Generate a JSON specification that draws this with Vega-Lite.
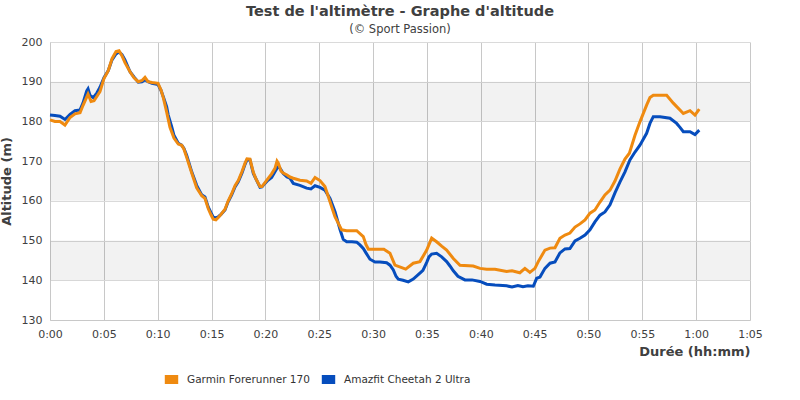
{
  "$schema": "https://vega.github.io/schema/vega-lite/v6.json",
  "width": 700,
  "height": 278,
  "autosize": "none",
  "padding": {"left": 50, "top": 42, "right": 50, "bottom": 80},
  "background": "white",
  "title": {
    "text": "Test de l'altimètre - Graphe d'altitude",
    "subtitle": "(© Sport Passion)",
    "anchor": "middle",
    "frame": "group",
    "font": "DejaVu Sans",
    "fontSize": 14.5,
    "fontWeight": "bold",
    "color": "#404040",
    "subtitleFont": "DejaVu Sans",
    "subtitleFontSize": 11.5,
    "subtitleColor": "#404040",
    "subtitlePadding": 4,
    "offset": 0
  },
  "datasets": {
    "bands": [
      {"lo": 180, "hi": 190},
      {"lo": 160, "hi": 170},
      {"lo": 140, "hi": 150}
    ],
    "alt": [
      {"t": 0, "alt": 181.6, "s": "Amazfit Cheetah 2 Ultra"},
      {"t": 0.46, "alt": 181.5, "s": "Amazfit Cheetah 2 Ultra"},
      {"t": 0.93, "alt": 181.3, "s": "Amazfit Cheetah 2 Ultra"},
      {"t": 1.39, "alt": 180.5, "s": "Amazfit Cheetah 2 Ultra"},
      {"t": 1.86, "alt": 181.8, "s": "Amazfit Cheetah 2 Ultra"},
      {"t": 2.32, "alt": 182.7, "s": "Amazfit Cheetah 2 Ultra"},
      {"t": 2.79, "alt": 182.9, "s": "Amazfit Cheetah 2 Ultra"},
      {"t": 3.06, "alt": 184.6, "s": "Amazfit Cheetah 2 Ultra"},
      {"t": 3.41, "alt": 187.7, "s": "Amazfit Cheetah 2 Ultra"},
      {"t": 3.53, "alt": 188.2, "s": "Amazfit Cheetah 2 Ultra"},
      {"t": 3.71, "alt": 186.6, "s": "Amazfit Cheetah 2 Ultra"},
      {"t": 4.02, "alt": 186.0, "s": "Amazfit Cheetah 2 Ultra"},
      {"t": 4.36, "alt": 187.2, "s": "Amazfit Cheetah 2 Ultra"},
      {"t": 4.64, "alt": 188.6, "s": "Amazfit Cheetah 2 Ultra"},
      {"t": 5.01, "alt": 191.0, "s": "Amazfit Cheetah 2 Ultra"},
      {"t": 5.41, "alt": 192.8, "s": "Amazfit Cheetah 2 Ultra"},
      {"t": 5.76, "alt": 195.5, "s": "Amazfit Cheetah 2 Ultra"},
      {"t": 6.13, "alt": 197.0, "s": "Amazfit Cheetah 2 Ultra"},
      {"t": 6.41, "alt": 197.5, "s": "Amazfit Cheetah 2 Ultra"},
      {"t": 6.69, "alt": 196.8, "s": "Amazfit Cheetah 2 Ultra"},
      {"t": 6.96, "alt": 195.5, "s": "Amazfit Cheetah 2 Ultra"},
      {"t": 7.43, "alt": 192.5, "s": "Amazfit Cheetah 2 Ultra"},
      {"t": 7.80, "alt": 191.2, "s": "Amazfit Cheetah 2 Ultra"},
      {"t": 8.20, "alt": 189.9, "s": "Amazfit Cheetah 2 Ultra"},
      {"t": 8.54, "alt": 190.0, "s": "Amazfit Cheetah 2 Ultra"},
      {"t": 8.82, "alt": 190.5, "s": "Amazfit Cheetah 2 Ultra"},
      {"t": 9.10, "alt": 190.0, "s": "Amazfit Cheetah 2 Ultra"},
      {"t": 9.47, "alt": 189.6, "s": "Amazfit Cheetah 2 Ultra"},
      {"t": 10.03, "alt": 189.3, "s": "Amazfit Cheetah 2 Ultra"},
      {"t": 10.31, "alt": 187.8, "s": "Amazfit Cheetah 2 Ultra"},
      {"t": 10.52, "alt": 186.2, "s": "Amazfit Cheetah 2 Ultra"},
      {"t": 10.83, "alt": 183.7, "s": "Amazfit Cheetah 2 Ultra"},
      {"t": 10.98, "alt": 181.6, "s": "Amazfit Cheetah 2 Ultra"},
      {"t": 11.30, "alt": 178.7, "s": "Amazfit Cheetah 2 Ultra"},
      {"t": 11.51, "alt": 176.5, "s": "Amazfit Cheetah 2 Ultra"},
      {"t": 11.91, "alt": 174.5, "s": "Amazfit Cheetah 2 Ultra"},
      {"t": 12.23, "alt": 174.0, "s": "Amazfit Cheetah 2 Ultra"},
      {"t": 12.44, "alt": 173.2, "s": "Amazfit Cheetah 2 Ultra"},
      {"t": 12.69, "alt": 171.5, "s": "Amazfit Cheetah 2 Ultra"},
      {"t": 13.16, "alt": 167.3, "s": "Amazfit Cheetah 2 Ultra"},
      {"t": 13.62, "alt": 163.9, "s": "Amazfit Cheetah 2 Ultra"},
      {"t": 14.09, "alt": 161.5, "s": "Amazfit Cheetah 2 Ultra"},
      {"t": 14.39, "alt": 161.0, "s": "Amazfit Cheetah 2 Ultra"},
      {"t": 14.70, "alt": 158.4, "s": "Amazfit Cheetah 2 Ultra"},
      {"t": 14.95, "alt": 157.0, "s": "Amazfit Cheetah 2 Ultra"},
      {"t": 15.16, "alt": 155.9, "s": "Amazfit Cheetah 2 Ultra"},
      {"t": 15.41, "alt": 155.7, "s": "Amazfit Cheetah 2 Ultra"},
      {"t": 15.63, "alt": 156.0, "s": "Amazfit Cheetah 2 Ultra"},
      {"t": 15.88, "alt": 156.6, "s": "Amazfit Cheetah 2 Ultra"},
      {"t": 16.25, "alt": 157.7, "s": "Amazfit Cheetah 2 Ultra"},
      {"t": 16.53, "alt": 159.7, "s": "Amazfit Cheetah 2 Ultra"},
      {"t": 16.87, "alt": 161.5, "s": "Amazfit Cheetah 2 Ultra"},
      {"t": 17.18, "alt": 163.5, "s": "Amazfit Cheetah 2 Ultra"},
      {"t": 17.48, "alt": 164.8, "s": "Amazfit Cheetah 2 Ultra"},
      {"t": 17.83, "alt": 167.0, "s": "Amazfit Cheetah 2 Ultra"},
      {"t": 18.11, "alt": 169.2, "s": "Amazfit Cheetah 2 Ultra"},
      {"t": 18.29, "alt": 170.3, "s": "Amazfit Cheetah 2 Ultra"},
      {"t": 18.57, "alt": 170.3, "s": "Amazfit Cheetah 2 Ultra"},
      {"t": 18.88, "alt": 166.9, "s": "Amazfit Cheetah 2 Ultra"},
      {"t": 19.13, "alt": 165.5, "s": "Amazfit Cheetah 2 Ultra"},
      {"t": 19.50, "alt": 163.4, "s": "Amazfit Cheetah 2 Ultra"},
      {"t": 19.68, "alt": 163.5, "s": "Amazfit Cheetah 2 Ultra"},
      {"t": 19.96, "alt": 164.4, "s": "Amazfit Cheetah 2 Ultra"},
      {"t": 20.24, "alt": 165.2, "s": "Amazfit Cheetah 2 Ultra"},
      {"t": 20.58, "alt": 165.9, "s": "Amazfit Cheetah 2 Ultra"},
      {"t": 20.89, "alt": 167.3, "s": "Amazfit Cheetah 2 Ultra"},
      {"t": 21.20, "alt": 168.8, "s": "Amazfit Cheetah 2 Ultra"},
      {"t": 21.45, "alt": 167.8, "s": "Amazfit Cheetah 2 Ultra"},
      {"t": 21.66, "alt": 166.9, "s": "Amazfit Cheetah 2 Ultra"},
      {"t": 22.01, "alt": 166.0, "s": "Amazfit Cheetah 2 Ultra"},
      {"t": 22.28, "alt": 165.7, "s": "Amazfit Cheetah 2 Ultra"},
      {"t": 22.59, "alt": 164.4, "s": "Amazfit Cheetah 2 Ultra"},
      {"t": 23.21, "alt": 163.9, "s": "Amazfit Cheetah 2 Ultra"},
      {"t": 23.83, "alt": 163.2, "s": "Amazfit Cheetah 2 Ultra"},
      {"t": 24.23, "alt": 163.0, "s": "Amazfit Cheetah 2 Ultra"},
      {"t": 24.61, "alt": 163.8, "s": "Amazfit Cheetah 2 Ultra"},
      {"t": 25.07, "alt": 163.4, "s": "Amazfit Cheetah 2 Ultra"},
      {"t": 25.53, "alt": 162.7, "s": "Amazfit Cheetah 2 Ultra"},
      {"t": 26.00, "alt": 160.6, "s": "Amazfit Cheetah 2 Ultra"},
      {"t": 26.46, "alt": 157.3, "s": "Amazfit Cheetah 2 Ultra"},
      {"t": 26.93, "alt": 152.8, "s": "Amazfit Cheetah 2 Ultra"},
      {"t": 27.23, "alt": 150.3, "s": "Amazfit Cheetah 2 Ultra"},
      {"t": 27.55, "alt": 149.7, "s": "Amazfit Cheetah 2 Ultra"},
      {"t": 28.04, "alt": 149.7, "s": "Amazfit Cheetah 2 Ultra"},
      {"t": 28.48, "alt": 149.6, "s": "Amazfit Cheetah 2 Ultra"},
      {"t": 28.78, "alt": 148.9, "s": "Amazfit Cheetah 2 Ultra"},
      {"t": 29.09, "alt": 148.0, "s": "Amazfit Cheetah 2 Ultra"},
      {"t": 29.34, "alt": 146.9, "s": "Amazfit Cheetah 2 Ultra"},
      {"t": 29.71, "alt": 145.3, "s": "Amazfit Cheetah 2 Ultra"},
      {"t": 30.18, "alt": 144.6, "s": "Amazfit Cheetah 2 Ultra"},
      {"t": 30.64, "alt": 144.6, "s": "Amazfit Cheetah 2 Ultra"},
      {"t": 31.26, "alt": 144.4, "s": "Amazfit Cheetah 2 Ultra"},
      {"t": 31.57, "alt": 143.8, "s": "Amazfit Cheetah 2 Ultra"},
      {"t": 31.88, "alt": 142.6, "s": "Amazfit Cheetah 2 Ultra"},
      {"t": 32.13, "alt": 141.0, "s": "Amazfit Cheetah 2 Ultra"},
      {"t": 32.34, "alt": 140.3, "s": "Amazfit Cheetah 2 Ultra"},
      {"t": 32.78, "alt": 140.0, "s": "Amazfit Cheetah 2 Ultra"},
      {"t": 33.27, "alt": 139.6, "s": "Amazfit Cheetah 2 Ultra"},
      {"t": 33.73, "alt": 140.3, "s": "Amazfit Cheetah 2 Ultra"},
      {"t": 34.35, "alt": 141.8, "s": "Amazfit Cheetah 2 Ultra"},
      {"t": 34.63, "alt": 142.5, "s": "Amazfit Cheetah 2 Ultra"},
      {"t": 34.98, "alt": 144.5, "s": "Amazfit Cheetah 2 Ultra"},
      {"t": 35.19, "alt": 145.9, "s": "Amazfit Cheetah 2 Ultra"},
      {"t": 35.44, "alt": 146.6, "s": "Amazfit Cheetah 2 Ultra"},
      {"t": 35.90, "alt": 146.8, "s": "Amazfit Cheetah 2 Ultra"},
      {"t": 36.37, "alt": 145.9, "s": "Amazfit Cheetah 2 Ultra"},
      {"t": 36.83, "alt": 144.7, "s": "Amazfit Cheetah 2 Ultra"},
      {"t": 37.14, "alt": 143.6, "s": "Amazfit Cheetah 2 Ultra"},
      {"t": 37.45, "alt": 142.4, "s": "Amazfit Cheetah 2 Ultra"},
      {"t": 37.88, "alt": 141.0, "s": "Amazfit Cheetah 2 Ultra"},
      {"t": 38.53, "alt": 140.1, "s": "Amazfit Cheetah 2 Ultra"},
      {"t": 39.18, "alt": 140.1, "s": "Amazfit Cheetah 2 Ultra"},
      {"t": 39.93, "alt": 139.7, "s": "Amazfit Cheetah 2 Ultra"},
      {"t": 40.55, "alt": 139.0, "s": "Amazfit Cheetah 2 Ultra"},
      {"t": 41.32, "alt": 138.8, "s": "Amazfit Cheetah 2 Ultra"},
      {"t": 42.40, "alt": 138.6, "s": "Amazfit Cheetah 2 Ultra"},
      {"t": 42.90, "alt": 138.3, "s": "Amazfit Cheetah 2 Ultra"},
      {"t": 43.45, "alt": 138.7, "s": "Amazfit Cheetah 2 Ultra"},
      {"t": 43.92, "alt": 138.4, "s": "Amazfit Cheetah 2 Ultra"},
      {"t": 44.38, "alt": 138.6, "s": "Amazfit Cheetah 2 Ultra"},
      {"t": 44.88, "alt": 138.5, "s": "Amazfit Cheetah 2 Ultra"},
      {"t": 45.19, "alt": 140.5, "s": "Amazfit Cheetah 2 Ultra"},
      {"t": 45.50, "alt": 140.8, "s": "Amazfit Cheetah 2 Ultra"},
      {"t": 45.96, "alt": 143.0, "s": "Amazfit Cheetah 2 Ultra"},
      {"t": 46.43, "alt": 144.3, "s": "Amazfit Cheetah 2 Ultra"},
      {"t": 46.89, "alt": 144.6, "s": "Amazfit Cheetah 2 Ultra"},
      {"t": 47.35, "alt": 146.9, "s": "Amazfit Cheetah 2 Ultra"},
      {"t": 47.82, "alt": 147.9, "s": "Amazfit Cheetah 2 Ultra"},
      {"t": 48.28, "alt": 148.0, "s": "Amazfit Cheetah 2 Ultra"},
      {"t": 48.75, "alt": 149.9, "s": "Amazfit Cheetah 2 Ultra"},
      {"t": 49.21, "alt": 150.6, "s": "Amazfit Cheetah 2 Ultra"},
      {"t": 49.68, "alt": 151.4, "s": "Amazfit Cheetah 2 Ultra"},
      {"t": 50.14, "alt": 152.7, "s": "Amazfit Cheetah 2 Ultra"},
      {"t": 50.60, "alt": 154.7, "s": "Amazfit Cheetah 2 Ultra"},
      {"t": 51.07, "alt": 156.4, "s": "Amazfit Cheetah 2 Ultra"},
      {"t": 51.53, "alt": 157.2, "s": "Amazfit Cheetah 2 Ultra"},
      {"t": 52.00, "alt": 159.0, "s": "Amazfit Cheetah 2 Ultra"},
      {"t": 52.46, "alt": 162.0, "s": "Amazfit Cheetah 2 Ultra"},
      {"t": 52.92, "alt": 164.7, "s": "Amazfit Cheetah 2 Ultra"},
      {"t": 53.39, "alt": 167.3, "s": "Amazfit Cheetah 2 Ultra"},
      {"t": 53.85, "alt": 170.3, "s": "Amazfit Cheetah 2 Ultra"},
      {"t": 54.32, "alt": 172.3, "s": "Amazfit Cheetah 2 Ultra"},
      {"t": 54.78, "alt": 174.0, "s": "Amazfit Cheetah 2 Ultra"},
      {"t": 55.40, "alt": 177.0, "s": "Amazfit Cheetah 2 Ultra"},
      {"t": 55.71, "alt": 179.5, "s": "Amazfit Cheetah 2 Ultra"},
      {"t": 56.02, "alt": 181.2, "s": "Amazfit Cheetah 2 Ultra"},
      {"t": 56.64, "alt": 181.2, "s": "Amazfit Cheetah 2 Ultra"},
      {"t": 57.57, "alt": 180.8, "s": "Amazfit Cheetah 2 Ultra"},
      {"t": 58.19, "alt": 179.5, "s": "Amazfit Cheetah 2 Ultra"},
      {"t": 58.50, "alt": 178.5, "s": "Amazfit Cheetah 2 Ultra"},
      {"t": 58.81, "alt": 177.4, "s": "Amazfit Cheetah 2 Ultra"},
      {"t": 59.43, "alt": 177.4, "s": "Amazfit Cheetah 2 Ultra"},
      {"t": 59.89, "alt": 176.7, "s": "Amazfit Cheetah 2 Ultra"},
      {"t": 60.29, "alt": 177.8, "s": "Amazfit Cheetah 2 Ultra"},
      {"t": 0, "alt": 180.4, "s": "Garmin Forerunner 170"},
      {"t": 0.46, "alt": 180.0, "s": "Garmin Forerunner 170"},
      {"t": 0.93, "alt": 180.0, "s": "Garmin Forerunner 170"},
      {"t": 1.39, "alt": 179.1, "s": "Garmin Forerunner 170"},
      {"t": 1.86, "alt": 181.0, "s": "Garmin Forerunner 170"},
      {"t": 2.32, "alt": 181.9, "s": "Garmin Forerunner 170"},
      {"t": 2.79, "alt": 182.2, "s": "Garmin Forerunner 170"},
      {"t": 3.06, "alt": 184.0, "s": "Garmin Forerunner 170"},
      {"t": 3.53, "alt": 186.9, "s": "Garmin Forerunner 170"},
      {"t": 3.81, "alt": 185.0, "s": "Garmin Forerunner 170"},
      {"t": 4.09, "alt": 185.2, "s": "Garmin Forerunner 170"},
      {"t": 4.64, "alt": 187.5, "s": "Garmin Forerunner 170"},
      {"t": 5.01, "alt": 190.8, "s": "Garmin Forerunner 170"},
      {"t": 5.41, "alt": 192.8, "s": "Garmin Forerunner 170"},
      {"t": 5.76, "alt": 195.8, "s": "Garmin Forerunner 170"},
      {"t": 6.13, "alt": 197.6, "s": "Garmin Forerunner 170"},
      {"t": 6.41, "alt": 197.8, "s": "Garmin Forerunner 170"},
      {"t": 6.69, "alt": 196.5, "s": "Garmin Forerunner 170"},
      {"t": 6.96, "alt": 194.8, "s": "Garmin Forerunner 170"},
      {"t": 7.43, "alt": 192.5, "s": "Garmin Forerunner 170"},
      {"t": 7.80, "alt": 191.0, "s": "Garmin Forerunner 170"},
      {"t": 8.20, "alt": 190.0, "s": "Garmin Forerunner 170"},
      {"t": 8.54, "alt": 190.3, "s": "Garmin Forerunner 170"},
      {"t": 8.82, "alt": 191.1, "s": "Garmin Forerunner 170"},
      {"t": 9.10, "alt": 190.0, "s": "Garmin Forerunner 170"},
      {"t": 9.47, "alt": 189.8, "s": "Garmin Forerunner 170"},
      {"t": 10.03, "alt": 189.6, "s": "Garmin Forerunner 170"},
      {"t": 10.31, "alt": 187.9, "s": "Garmin Forerunner 170"},
      {"t": 10.52, "alt": 186.0, "s": "Garmin Forerunner 170"},
      {"t": 10.83, "alt": 182.4, "s": "Garmin Forerunner 170"},
      {"t": 11.14, "alt": 178.5, "s": "Garmin Forerunner 170"},
      {"t": 11.51, "alt": 175.8, "s": "Garmin Forerunner 170"},
      {"t": 11.91, "alt": 174.3, "s": "Garmin Forerunner 170"},
      {"t": 12.23, "alt": 174.0, "s": "Garmin Forerunner 170"},
      {"t": 12.44, "alt": 173.0, "s": "Garmin Forerunner 170"},
      {"t": 12.69, "alt": 171.0, "s": "Garmin Forerunner 170"},
      {"t": 13.16, "alt": 167.0, "s": "Garmin Forerunner 170"},
      {"t": 13.62, "alt": 163.3, "s": "Garmin Forerunner 170"},
      {"t": 14.09, "alt": 161.3, "s": "Garmin Forerunner 170"},
      {"t": 14.39, "alt": 160.6, "s": "Garmin Forerunner 170"},
      {"t": 14.70, "alt": 158.0, "s": "Garmin Forerunner 170"},
      {"t": 14.95, "alt": 156.5, "s": "Garmin Forerunner 170"},
      {"t": 15.16, "alt": 155.4, "s": "Garmin Forerunner 170"},
      {"t": 15.41, "alt": 155.2, "s": "Garmin Forerunner 170"},
      {"t": 15.63, "alt": 155.8, "s": "Garmin Forerunner 170"},
      {"t": 15.88, "alt": 156.6, "s": "Garmin Forerunner 170"},
      {"t": 16.25, "alt": 157.9, "s": "Garmin Forerunner 170"},
      {"t": 16.53, "alt": 159.9, "s": "Garmin Forerunner 170"},
      {"t": 16.87, "alt": 161.8, "s": "Garmin Forerunner 170"},
      {"t": 17.18, "alt": 163.8, "s": "Garmin Forerunner 170"},
      {"t": 17.48, "alt": 165.1, "s": "Garmin Forerunner 170"},
      {"t": 17.83, "alt": 167.4, "s": "Garmin Forerunner 170"},
      {"t": 18.11, "alt": 169.5, "s": "Garmin Forerunner 170"},
      {"t": 18.29, "alt": 170.6, "s": "Garmin Forerunner 170"},
      {"t": 18.57, "alt": 170.5, "s": "Garmin Forerunner 170"},
      {"t": 18.88, "alt": 167.2, "s": "Garmin Forerunner 170"},
      {"t": 19.13, "alt": 165.5, "s": "Garmin Forerunner 170"},
      {"t": 19.50, "alt": 163.6, "s": "Garmin Forerunner 170"},
      {"t": 19.68, "alt": 163.6, "s": "Garmin Forerunner 170"},
      {"t": 19.96, "alt": 164.6, "s": "Garmin Forerunner 170"},
      {"t": 20.24, "alt": 165.6, "s": "Garmin Forerunner 170"},
      {"t": 20.58, "alt": 166.8, "s": "Garmin Forerunner 170"},
      {"t": 20.89, "alt": 168.2, "s": "Garmin Forerunner 170"},
      {"t": 21.08, "alt": 170.0, "s": "Garmin Forerunner 170"},
      {"t": 21.20, "alt": 169.5, "s": "Garmin Forerunner 170"},
      {"t": 21.45, "alt": 167.5, "s": "Garmin Forerunner 170"},
      {"t": 21.66, "alt": 167.0, "s": "Garmin Forerunner 170"},
      {"t": 22.01, "alt": 166.5, "s": "Garmin Forerunner 170"},
      {"t": 22.28, "alt": 166.0, "s": "Garmin Forerunner 170"},
      {"t": 22.59, "alt": 165.7, "s": "Garmin Forerunner 170"},
      {"t": 23.21, "alt": 165.2, "s": "Garmin Forerunner 170"},
      {"t": 23.83, "alt": 165.0, "s": "Garmin Forerunner 170"},
      {"t": 24.23, "alt": 164.4, "s": "Garmin Forerunner 170"},
      {"t": 24.61, "alt": 165.9, "s": "Garmin Forerunner 170"},
      {"t": 25.07, "alt": 165.1, "s": "Garmin Forerunner 170"},
      {"t": 25.53, "alt": 163.6, "s": "Garmin Forerunner 170"},
      {"t": 26.00, "alt": 159.8, "s": "Garmin Forerunner 170"},
      {"t": 26.46, "alt": 156.0, "s": "Garmin Forerunner 170"},
      {"t": 26.93, "alt": 153.5, "s": "Garmin Forerunner 170"},
      {"t": 27.08, "alt": 152.7, "s": "Garmin Forerunner 170"},
      {"t": 27.55, "alt": 152.5, "s": "Garmin Forerunner 170"},
      {"t": 28.48, "alt": 152.5, "s": "Garmin Forerunner 170"},
      {"t": 29.09, "alt": 151.0, "s": "Garmin Forerunner 170"},
      {"t": 29.34, "alt": 149.0, "s": "Garmin Forerunner 170"},
      {"t": 29.57, "alt": 147.8, "s": "Garmin Forerunner 170"},
      {"t": 30.64, "alt": 147.8, "s": "Garmin Forerunner 170"},
      {"t": 31.0, "alt": 147.8, "s": "Garmin Forerunner 170"},
      {"t": 31.57, "alt": 146.8, "s": "Garmin Forerunner 170"},
      {"t": 32.03, "alt": 143.8, "s": "Garmin Forerunner 170"},
      {"t": 33.03, "alt": 142.8, "s": "Garmin Forerunner 170"},
      {"t": 33.73, "alt": 144.3, "s": "Garmin Forerunner 170"},
      {"t": 34.35, "alt": 144.7, "s": "Garmin Forerunner 170"},
      {"t": 34.98, "alt": 147.6, "s": "Garmin Forerunner 170"},
      {"t": 35.44, "alt": 150.6, "s": "Garmin Forerunner 170"},
      {"t": 35.90, "alt": 149.7, "s": "Garmin Forerunner 170"},
      {"t": 36.37, "alt": 148.6, "s": "Garmin Forerunner 170"},
      {"t": 36.83, "alt": 147.6, "s": "Garmin Forerunner 170"},
      {"t": 37.45, "alt": 145.5, "s": "Garmin Forerunner 170"},
      {"t": 38.07, "alt": 143.8, "s": "Garmin Forerunner 170"},
      {"t": 39.30, "alt": 143.6, "s": "Garmin Forerunner 170"},
      {"t": 39.93, "alt": 143.0, "s": "Garmin Forerunner 170"},
      {"t": 40.55, "alt": 142.8, "s": "Garmin Forerunner 170"},
      {"t": 41.32, "alt": 142.8, "s": "Garmin Forerunner 170"},
      {"t": 42.40, "alt": 142.2, "s": "Garmin Forerunner 170"},
      {"t": 42.90, "alt": 142.4, "s": "Garmin Forerunner 170"},
      {"t": 43.63, "alt": 141.9, "s": "Garmin Forerunner 170"},
      {"t": 44.10, "alt": 143.0, "s": "Garmin Forerunner 170"},
      {"t": 44.56, "alt": 142.0, "s": "Garmin Forerunner 170"},
      {"t": 45.03, "alt": 143.0, "s": "Garmin Forerunner 170"},
      {"t": 45.34, "alt": 144.7, "s": "Garmin Forerunner 170"},
      {"t": 45.96, "alt": 147.6, "s": "Garmin Forerunner 170"},
      {"t": 46.43, "alt": 148.1, "s": "Garmin Forerunner 170"},
      {"t": 46.89, "alt": 148.2, "s": "Garmin Forerunner 170"},
      {"t": 47.35, "alt": 150.6, "s": "Garmin Forerunner 170"},
      {"t": 47.82, "alt": 151.4, "s": "Garmin Forerunner 170"},
      {"t": 48.28, "alt": 151.9, "s": "Garmin Forerunner 170"},
      {"t": 48.75, "alt": 153.4, "s": "Garmin Forerunner 170"},
      {"t": 49.21, "alt": 154.2, "s": "Garmin Forerunner 170"},
      {"t": 49.68, "alt": 155.2, "s": "Garmin Forerunner 170"},
      {"t": 50.14, "alt": 156.9, "s": "Garmin Forerunner 170"},
      {"t": 50.60, "alt": 157.7, "s": "Garmin Forerunner 170"},
      {"t": 51.07, "alt": 159.7, "s": "Garmin Forerunner 170"},
      {"t": 51.53, "alt": 161.5, "s": "Garmin Forerunner 170"},
      {"t": 52.00, "alt": 162.7, "s": "Garmin Forerunner 170"},
      {"t": 52.46, "alt": 165.0, "s": "Garmin Forerunner 170"},
      {"t": 52.92, "alt": 168.0, "s": "Garmin Forerunner 170"},
      {"t": 53.39, "alt": 170.5, "s": "Garmin Forerunner 170"},
      {"t": 53.80, "alt": 172.0, "s": "Garmin Forerunner 170"},
      {"t": 54.32, "alt": 176.5, "s": "Garmin Forerunner 170"},
      {"t": 54.78, "alt": 179.9, "s": "Garmin Forerunner 170"},
      {"t": 55.40, "alt": 184.1, "s": "Garmin Forerunner 170"},
      {"t": 55.71, "alt": 186.0, "s": "Garmin Forerunner 170"},
      {"t": 56.02, "alt": 186.6, "s": "Garmin Forerunner 170"},
      {"t": 57.26, "alt": 186.6, "s": "Garmin Forerunner 170"},
      {"t": 57.88, "alt": 184.6, "s": "Garmin Forerunner 170"},
      {"t": 58.81, "alt": 182.0, "s": "Garmin Forerunner 170"},
      {"t": 59.43, "alt": 182.7, "s": "Garmin Forerunner 170"},
      {"t": 59.89, "alt": 181.6, "s": "Garmin Forerunner 170"},
      {"t": 60.29, "alt": 183.1, "s": "Garmin Forerunner 170"}
    ]
  },
  "layer": [
    {
      "data": {"name": "bands"},
      "mark": {"type": "rect", "color": "#000000", "opacity": 0.05},
      "encoding": {
        "y": {
          "field": "hi",
          "type": "quantitative",
          "scale": {"domain": [130, 200], "nice": false, "zero": false},
          "axis": {
            "values": [130, 140, 150, 160, 170, 180, 190, 200],
            "labelOverlap": false,
            "labelFlush": false,
            "title": "Altitude (m)",
            "titleFontWeight": "bold",
            "titleFontSize": 13,
            "titleColor": "#404040",
            "titlePadding": 8,
            "gridColor": "#dadada",
            "domainColor": "#c8c8c8",
            "ticks": false,
            "labelPadding": 8,
            "labelFont": "DejaVu Sans",
            "labelFontSize": 11,
            "labelColor": "#404040"
          }
        },
        "y2": {"field": "lo"}
      }
    },
    {
      "data": {"name": "alt"},
      "mark": {"type": "line", "strokeWidth": 3, "interpolate": "linear"},
      "encoding": {
        "x": {
          "field": "t",
          "type": "quantitative",
          "scale": {"domain": [0, 65], "nice": false},
          "axis": {
            "values": [0, 5, 10, 15, 20, 25, 30, 35, 40, 45, 50, 55, 60, 65],
            "labelExpr": "floor(datum.value/60) + ':' + (datum.value % 60 < 10 ? '0' : '') + (datum.value % 60)",
            "labelFlush": false,
            "labelOverlap": false,
            "title": "Durée (hh:mm)",
            "titleAnchor": "end",
            "titleFontWeight": "bold",
            "titleFontSize": 13,
            "titleColor": "#404040",
            "titlePadding": 6,
            "gridColor": "#c8c8c8",
            "domainColor": "#c8c8c8",
            "ticks": false,
            "labelPadding": 8,
            "labelFont": "DejaVu Sans",
            "labelFontSize": 11,
            "labelColor": "#404040"
          }
        },
        "y": {
          "field": "alt",
          "type": "quantitative",
          "scale": {"domain": [130, 200], "nice": false, "zero": false},
          "axis": {
            "values": [130, 140, 150, 160, 170, 180, 190, 200],
            "labelOverlap": false,
            "labelFlush": false,
            "title": "Altitude (m)",
            "titleFontWeight": "bold",
            "titleFontSize": 13,
            "titleColor": "#404040",
            "titlePadding": 8,
            "gridColor": "#dadada",
            "domainColor": "#c8c8c8",
            "ticks": false,
            "labelPadding": 8,
            "labelFont": "DejaVu Sans",
            "labelFontSize": 11,
            "labelColor": "#404040"
          }
        },
        "color": {
          "field": "s",
          "type": "nominal",
          "sort": ["Garmin Forerunner 170", "Amazfit Cheetah 2 Ultra"],
          "scale": {"domain": ["Garmin Forerunner 170", "Amazfit Cheetah 2 Ultra"], "range": ["#ef8a10", "#064dbd"]},
          "legend": {
            "title": null,
            "orient": "none",
            "direction": "horizontal",
            "legendX": 110,
            "legendY": 326,
            "gridAlign": "none",
            "symbolType": "stroke",
            "symbolSize": 180,
            "symbolStrokeWidth": 9,
            "symbolOpacity": 1,
            "labelFont": "DejaVu Sans",
            "labelFontSize": 10.5,
            "labelColor": "#333333",
            "labelOffset": 4,
            "columnPadding": -7
          }
        }
      }
    }
  ],
  "config": {
    "view": {"stroke": null},
    "axis": {"titleFont": "DejaVu Sans", "labelOverlap": false}
  }
}
